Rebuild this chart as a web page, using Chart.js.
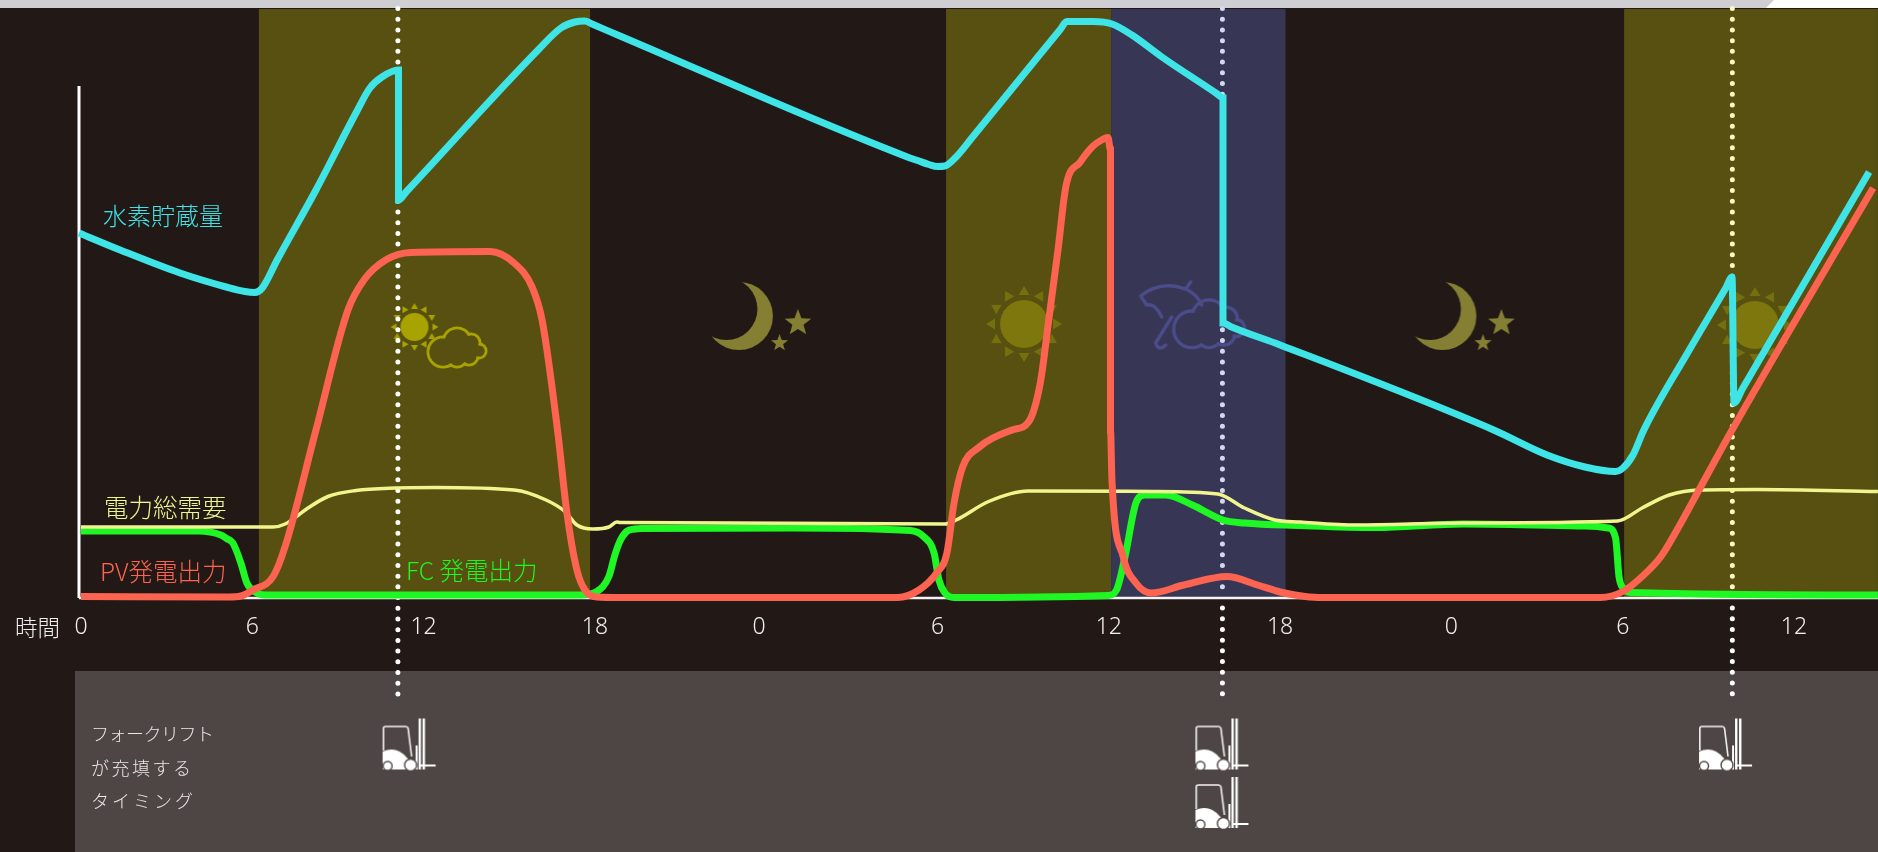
<!DOCTYPE html>
<html lang="ja">
<head>
<meta charset="utf-8">
<title>水素貯蔵量と発電出力</title>
<script src="https://cdn.jsdelivr.net/npm/chart.js@4"></script>
<style>
  html, body { margin: 0; padding: 0; background: #221917; overflow: hidden; }
  canvas { display: block; }
</style>
</head>
<body>
<canvas id="energyChart" width="1878" height="852"></canvas>
<script>
const tickHours = [0, 6, 12, 18, 23.75, 30, 36, 42, 48, 54, 60];
const tickLabels = ["0", "6", "12", "18", "0", "6", "12", "18", "0", "6", "12"];

const bandStart = [6.23, 30.30, 36.08, 54.05];
const bandEnd = [17.83, 36.08, 42.19, 62.94];
const bandColor = ["#575011", "#575011", "#373755", "#575011"];

const hydrogenHours = [-0.07, 1.37, 3.47, 5.15, 5.74, 6.08, 6.35, 6.87, 8.23, 9.63, 10.12, 10.54, 11.12, 11.12, 11.4, 16.01, 16.81, 17.3, 17.65, 17.9, 18.88, 28.9, 29.3, 29.7, 30.0, 30.26, 30.65, 31.2, 33.0, 34.3, 34.53, 35.45, 36.11, 36.81, 37.86, 39.8, 40.0, 40.0, 40.3, 42.0, 49.48, 51.35, 52.68, 53.75, 54.01, 54.36, 54.74, 56.29, 57.6, 57.83, 57.9, 58.2, 62.63];
const hydrogenLevel = [73.0, 69.6, 65.0, 62.1, 61.3, 61.1, 62.0, 67.6, 81.6, 97.0, 102.0, 104.2, 105.6, 79.6, 81.3, 109.6, 114.0, 115.2, 115.4, 114.8, 112.4, 88.3, 87.5, 86.7, 86.3, 86.4, 88.2, 92.0, 104.6, 113.7, 115.3, 115.3, 114.8, 112.6, 108.2, 100.8, 100.0, 55.0, 54.2, 50.6, 33.6, 28.6, 26.2, 25.3, 26.0, 28.6, 33.6, 49.2, 61.9, 64.2, 39.0, 41.9, 85.2];

const pvHours = [0, 5.18, 5.6, 6.02, 6.73, 7.15, 8.23, 9.35, 9.91, 10.67, 11.56, 14.33, 15.17, 15.8, 16.15, 16.69, 17.02, 17.37, 17.65, 18.07, 18.88, 28.6, 29.35, 29.97, 30.33, 30.58, 30.88, 31.42, 32.61, 33.2, 33.6, 33.91, 34.22, 34.5, 35.0, 35.45, 35.75, 35.97, 36.06, 36.06, 36.11, 36.5, 36.95, 37.48, 38.63, 40.14, 41.21, 42.0, 42.52, 43.33, 53.21, 54.01, 54.68, 55.34, 55.9, 56.71, 57.83, 62.77];
const pvOutput = [0.3, 0.2, 0.4, 1.6, 4.3, 10.3, 33.6, 57.6, 63.6, 67.6, 69.1, 69.3, 67.0, 62.2, 55.6, 33.6, 17.0, 5.6, 1.6, 0.2, 0.1, 0.1, 1.6, 5.0, 9.0, 19.0, 26.2, 30.0, 33.6, 35.3, 43.0, 56.2, 69.6, 82.4, 87.2, 90.4, 91.6, 92.1, 89.6, 33.6, 23.6, 8.3, 3.0, 1.0, 2.6, 4.3, 2.6, 1.2, 0.6, 0.1, 0.1, 1.3, 4.3, 8.3, 13.6, 22.0, 33.6, 82.0];

const fcHours = [0, 4.1, 4.9, 5.1, 5.32, 5.6, 5.81, 6.09, 6.44, 17.51, 18.07, 18.49, 18.7, 18.88, 19.11, 19.4, 19.64, 24.94, 29.05, 29.51, 29.88, 30.05, 30.26, 30.58, 35.97, 36.27, 36.57, 36.95, 37.26, 38.0, 38.93, 40.0, 40.75, 42.7, 45.32, 48.41, 52.68, 53.49, 53.75, 53.87, 54.01, 54.29, 62.94];
const fcOutput = [13.4, 13.4, 12.6, 11.9, 11.0, 7.0, 3.0, 1.2, 0.6, 0.6, 1.3, 4.3, 8.6, 11.4, 13.3, 13.8, 13.9, 14.0, 13.5, 12.3, 9.0, 3.6, 1.0, 0.1, 0.5, 1.6, 8.3, 19.0, 20.6, 20.6, 18.6, 15.6, 15.0, 14.5, 14.1, 14.8, 14.4, 14.0, 12.0, 4.3, 2.0, 1.1, 0.6];

const demandHours = [0, 6.73, 7.15, 7.95, 8.65, 9.63, 11.0, 12.4, 15.17, 16.29, 16.95, 17.37, 17.93, 18.49, 18.77, 18.88, 30.26, 30.65, 31.79, 33.16, 37.55, 39.82, 40.75, 41.82, 42.7, 44.66, 48.41, 53.82, 54.68, 55.63, 56.69, 58.7, 62.94];
const demandTotal = [14.2, 14.2, 14.8, 18.0, 20.3, 21.5, 22.0, 22.1, 21.6, 19.6, 17.3, 14.6, 13.8, 14.2, 15.2, 15.1, 14.8, 15.6, 19.3, 21.4, 21.3, 20.8, 18.0, 15.6, 15.2, 14.6, 15.0, 15.4, 18.0, 20.6, 21.6, 21.7, 21.3];

const refillHours = [11.1, 39.98, 57.84];

const forkliftHours = [11.51, 39.98, 39.98, 57.62];
const forkliftRow = [-29.5, -29.5, -41.2, -29.5];

const Y_PER_PX = 5;
const BASE_PX = 598;

function toPoints(hours, values) {
  return hours.map((h, i) => ({ x: h, y: values[i] }));
}

function makeIcon(w, h, draw) {
  const c = document.createElement("canvas");
  c.width = w;
  c.height = h;
  draw(c.getContext("2d"));
  return c;
}

function sunIcon(size, body, rayIn, rayOut, rayHalf, bodyColor, rayColor) {
  return makeIcon(size, size, function (g) {
    g.translate(size / 2, size / 2);
    g.fillStyle = bodyColor;
    g.beginPath();
    g.arc(0, 0, body, 0, Math.PI * 2);
    g.fill();
    g.fillStyle = rayColor;
    for (let i = 0; i < 12; i++) {
      g.save();
      g.rotate((i * Math.PI) / 6);
      g.beginPath();
      g.moveTo(-rayHalf, -rayIn);
      g.lineTo(rayHalf, -rayIn);
      g.lineTo(0, -rayOut);
      g.closePath();
      g.fill();
      g.restore();
    }
  });
}

function cloudShape(g, ox, oy, color, width, s) {
  const lobes = [[20, 26, 15], [34, 16, 14], [48, 17, 9], [56, 25, 7], [34, 30, 11], [46, 30, 9]];
  const layer = makeIcon(g.canvas.width, g.canvas.height, function (l) {
    l.strokeStyle = color;
    l.lineWidth = width;
    lobes.forEach(function (b) {
      l.beginPath();
      l.arc(ox + b[0] * s, oy + b[1] * s, b[2] * s, 0, Math.PI * 2);
      l.stroke();
    });
    l.globalCompositeOperation = "destination-out";
    lobes.forEach(function (b) {
      l.beginPath();
      l.arc(ox + b[0] * s, oy + b[1] * s, b[2] * s - width / 2, 0, Math.PI * 2);
      l.fill();
    });
  });
  g.drawImage(layer, 0, 0);
}

function star(g, x, y, r) {
  g.beginPath();
  for (let i = 0; i < 10; i++) {
    const rad = i % 2 === 0 ? r : r * 0.42;
    const a = -Math.PI / 2 + (i * Math.PI) / 5;
    g.lineTo(x + rad * Math.cos(a), y + rad * Math.sin(a));
  }
  g.closePath();
  g.fill();
}

const moonIcon = makeIcon(120, 90, function (g) {
  g.fillStyle = "#857f33";
  g.beginPath();
  g.arc(39, 44, 34, 0, Math.PI * 2);
  g.fill();
  g.globalCompositeOperation = "destination-out";
  g.beginPath();
  g.arc(26.5, 37, 31, 0, Math.PI * 2);
  g.fill();
  g.globalCompositeOperation = "source-over";
  star(g, 98, 51, 14);
  star(g, 79.6, 71, 9);
});

const bigSun = sunIcon(80, 24, 29, 38, 5.5, "#7d770e", "#75700f");
const smallSun = sunIcon(50, 14, 18, 24, 3.5, "#a9a301", "#a9a301");
const smallCloud = makeIcon(70, 50, function (g) {
  cloudShape(g, 3, 3, "#a9a301", 3, 1);
});

const rainIcon = makeIcon(116, 76, function (g) {
  const col = "#4b4c8a";
  g.strokeStyle = col;
  g.lineWidth = 3.5;
  g.lineCap = "round";
  g.lineJoin = "round";
  g.beginPath();
  g.moveTo(9, 26);
  g.quadraticCurveTo(6, 21, 3, 17);
  g.quadraticCurveTo(24, 0, 50, 11);
  g.quadraticCurveTo(60, 16, 64, 26);
  g.moveTo(9, 26);
  g.quadraticCurveTo(18, 24, 24, 38);
  g.moveTo(48, 10);
  g.lineTo(53, 3);
  g.moveTo(34, 38);
  g.lineTo(18, 64);
  g.quadraticCurveTo(21, 73, 28, 66);
  g.stroke();
  cloudShape(g, 30, 18.5, col, 3.5, 1.22);
});

const forklift = makeIcon(56, 56, function (g) {
  g.translate(1, 1);
  g.strokeStyle = "#f4f4f4";
  g.fillStyle = "#ffffff";
  g.lineWidth = 1.6;
  g.beginPath();
  g.moveTo(0.8, 32);
  g.lineTo(0.8, 10);
  g.quadraticCurveTo(0.8, 8, 3, 8);
  g.lineTo(23, 8);
  g.quadraticCurveTo(25, 8, 25.5, 10);
  g.lineTo(29, 38);
  g.stroke();
  g.beginPath();
  g.moveTo(0, 33);
  g.quadraticCurveTo(14, 27, 24, 39);
  g.lineTo(30, 44);
  g.lineTo(30, 51);
  g.lineTo(0, 51);
  g.closePath();
  g.fill();
  g.fillRect(33, 27, 2, 24);
  g.fillRect(36, 0, 2.4, 51);
  g.fillRect(40, 0, 2.4, 51);
  g.fillRect(36, 46, 17, 2);
  g.lineWidth = 1.4;
  g.strokeStyle = "#4e4645";
  g.beginPath();
  g.arc(5, 47.5, 4.5, 0, Math.PI * 2);
  g.fill();
  g.stroke();
  g.beginPath();
  g.arc(28, 46.5, 6, 0, Math.PI * 2);
  g.fill();
  g.stroke();
});

const weatherIcons = [
  { x: 11.68, y: 54.2, icon: smallSun },
  { x: 13.1, y: 50.0, icon: smallCloud },
  { x: 23.78, y: 56.2, icon: moonIcon },
  { x: 33.03, y: 54.8, icon: bigSun },
  { x: 39.04, y: 56.2, icon: rainIcon },
  { x: 48.42, y: 56.2, icon: moonIcon },
  { x: 58.63, y: 54.6, icon: bigSun },
];

const notes = [
  { text: "水素貯蔵量", x: 103, y: 216, size: 24, color: "#3ee4e6" },
  { text: "電力総需要", x: 104, y: 508, size: 24.5, color: "#f1f58e" },
  { text: "PV発電出力", x: 100, y: 572, size: 24.5, color: "#fc6350" },
  { text: "FC 発電出力", x: 406, y: 571, size: 24.5, color: "#1ef723" },
  { text: "時間", x: 15, y: 627, size: 22.5, color: "#eeeeee" },
  { text: "フォークリフト", x: 91, y: 734, size: 18, color: "#e8e8e8", spacing: -0.5 },
  { text: "が充填する", x: 91, y: 768, size: 18, color: "#e8e8e8", spacing: 2.5 },
  { text: "タイミング", x: 91, y: 801, size: 18, color: "#e8e8e8", spacing: 3 },
];

const backdrop = {
  id: "backdrop",
  beforeDraw(chart) {
    const g = chart.ctx;
    const x = chart.scales.x;
    const y = chart.scales.y;
    g.save();
    g.fillStyle = "#221917";
    g.fillRect(0, 0, chart.width, chart.height);
    g.fillStyle = "#cfcfd3";
    g.fillRect(0, 0, chart.width, 8);
    g.fillStyle = "#ffffff";
    g.beginPath();
    g.moveTo(1766, 8);
    g.lineTo(1774, 0);
    g.lineTo(chart.width, 0);
    g.lineTo(chart.width, 8);
    g.closePath();
    g.fill();
    bandStart.forEach(function (s, i) {
      const left = x.getPixelForValue(s);
      const top = y.getPixelForValue(117.8);
      g.fillStyle = bandColor[i];
      g.fillRect(left, top, x.getPixelForValue(bandEnd[i]) - left, y.getPixelForValue(0) - top);
    });
    const panelLeft = x.getPixelForValue(-0.21);
    const panelTop = y.getPixelForValue(-14.6);
    g.fillStyle = "#4e4645";
    g.fillRect(panelLeft, panelTop, chart.width - panelLeft, chart.height - panelTop);
    g.restore();
  },
};

const noteText = {
  id: "noteText",
  afterDraw(chart) {
    const g = chart.ctx;
    g.save();
    g.textBaseline = "middle";
    notes.forEach(function (n) {
      g.font = "300 " + n.size + 'px "Noto Sans CJK JP"';
      g.fillStyle = n.color;
      g.letterSpacing = (n.spacing || 0) + "px";
      g.fillText(n.text, n.x, n.y);
    });
    g.restore();
  },
};

function curve(label, data, color, width, order) {
  return {
    label: label,
    data: data,
    borderColor: color,
    borderWidth: width,
    pointRadius: 0,
    cubicInterpolationMode: "monotone",
    order: order,
    fill: false,
    borderJoinStyle: "miter",
  };
}

function dots(label, hour, from, to, color) {
  return {
    label: label,
    data: [{ x: hour, y: from }, { x: hour, y: to }],
    borderColor: color,
    borderWidth: 5,
    borderCapStyle: "round",
    borderDash: [0, 10.71],
    pointRadius: 0,
    order: 8,
  };
}

function icons(label, points, styles) {
  return {
    label: label,
    data: points,
    showLine: false,
    pointRadius: 10,
    pointStyle: styles,
    order: 9,
  };
}

const ctx = document.getElementById("energyChart");

new Chart(ctx, {
  type: "line",
  data: {
    datasets: [
      icons("天気", weatherIcons.map((w) => ({ x: w.x, y: w.y })), weatherIcons.map((w) => w.icon)),
      dots("充填1", refillHours[0], 117.9, -19.4, "#ffffff"),
      dots("充填2", refillHours[1], 117.9, 0.1, "#d3d8f2"),
      dots("充填2下", refillHours[1], -2.0, -19.4, "#ffffff"),
      dots("充填3", refillHours[2], 117.9, 0.1, "#fff7c4"),
      dots("充填3下", refillHours[2], -2.0, -19.4, "#ffffff"),
      icons("フォークリフト", toPoints(forkliftHours, forkliftRow), forklift),
      curve("横軸", [{ x: -0.07, y: 0 }, { x: 62.94, y: 0 }], "#f4f4f4", 2.5, 7),
      curve("縦軸", [{ x: -0.07, y: 102.4 }, { x: -0.07, y: 0 }], "#ffffff", 3, 7),
      curve("FC 発電出力", toPoints(fcHours, fcOutput), "#1ef723", 7, 6),
      curve("電力総需要", toPoints(demandHours, demandTotal), "#f1f58e", 3.5, 5),
      curve("PV発電出力", toPoints(pvHours, pvOutput), "#fc6350", 7, 4),
      curve("水素貯蔵量", toPoints(hydrogenHours, hydrogenLevel), "#3ee4e6", 7, 3),
    ],
  },
  options: {
    responsive: false,
    animation: false,
    layout: { padding: 0, autoPadding: false },
    plugins: {
      legend: { display: false },
      tooltip: { enabled: false },
    },
    scales: {
      x: {
        type: "linear",
        position: { y: 0 },
        min: -81 / 28.55,
        max: 1797 / 28.55,
        grid: { display: false },
        border: { display: false },
        afterBuildTicks: function (scale) {
          scale.ticks = tickHours.map((v) => ({ value: v }));
        },
        afterFit: function (scale) {
          scale.paddingLeft = 0;
          scale.paddingRight = 0;
        },
        ticks: {
          autoSkip: false,
          maxRotation: 0,
          color: "#eeeeee",
          padding: 8,
          font: { family: "Noto Sans", size: 23, weight: 300 },
          callback: function (value, index) {
            return tickLabels[index];
          },
        },
      },
      y: {
        type: "linear",
        display: false,
        min: -254 / Y_PER_PX,
        max: BASE_PX / Y_PER_PX,
      },
    },
  },
  plugins: [backdrop, noteText],
});
</script>
</body>
</html>
